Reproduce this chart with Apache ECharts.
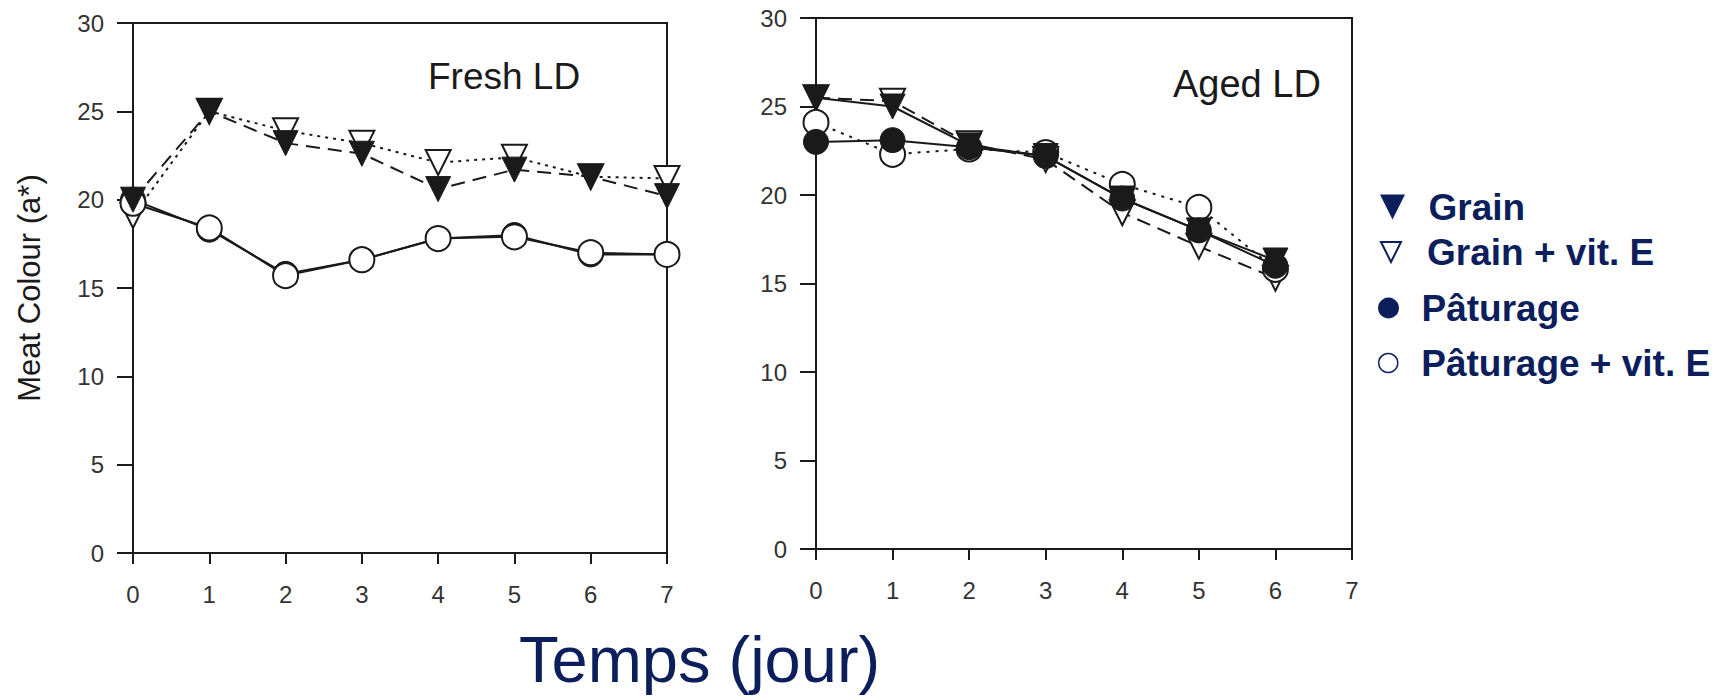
<!DOCTYPE html>
<html>
<head>
<meta charset="utf-8">
<script src="https://cdn.jsdelivr.net/npm/echarts@6/dist/echarts.min.js"></script>
<style>
html,body{margin:0;padding:0;background:#fff;}
#chart{width:1730px;height:700px;}
</style>
</head>
<body>
<div id="chart"></div>
<script>
// ---- data ----
const freshDays = [0, 1, 2, 3, 4, 5, 6, 7];
const agedDays = [0, 1, 2, 3, 4, 5, 6];
const seriesNames = ['Grain', 'Grain + vit. E', 'Pâturage', 'Pâturage + vit. E'];

const freshGrain = [20.0, 25.0, 23.2, 22.6, 20.6, 21.7, 21.3, 20.2];
const freshGrainE = [19.1, 25.0, 23.9, 23.2, 22.1, 22.4, 21.3, 21.2];
const freshPat = [20.0, 18.3, 15.8, 16.6, 17.8, 18.0, 16.9, 16.9];
const freshPatE = [19.8, 18.4, 15.7, 16.6, 17.8, 17.9, 17.0, 16.9];

const agedGrain = [25.5, 25.0, 22.8, 22.2, 19.8, 18.0, 16.3];
const agedGrainE = [25.5, 25.3, 22.9, 22.0, 19.0, 17.1, 15.3];
const agedPat = [23.0, 23.1, 22.7, 22.2, 19.8, 18.0, 16.0];
const agedPatE = [24.1, 22.3, 22.6, 22.4, 20.6, 19.3, 15.8];

const panelTitles = ['Fresh LD', 'Aged LD'];
const xTitle = 'Temps (jour)';
const yTitle = 'Meat Colour (a*)';

// ---- styling ----
const FONT = "'Liberation Sans', Arial, sans-serif";
const NAVY = '#0c1f5c';
const INK = '#1a1a1a';
const TRI = 'path://M0,0L20,0L10,20Z';

const pairs = (xs, ys) => xs.map((x, i) => [x, ys[i]]);

const symbolFor = {
  'Grain': {symbol: TRI, itemStyle: {color: INK, borderColor: INK, borderWidth: 1}},
  'Grain + vit. E': {symbol: TRI, itemStyle: {color: '#fff', borderColor: INK, borderWidth: 2}},
  'Pâturage': {symbol: 'circle', itemStyle: {color: INK, borderColor: INK, borderWidth: 1}},
  'Pâturage + vit. E': {symbol: 'circle', itemStyle: {color: '#fff', borderColor: INK, borderWidth: 2}}
};

function mkSeries(name, data, idx, lineType, z) {
  const s = symbolFor[name];
  return {
    name: name, type: 'line', xAxisIndex: idx, yAxisIndex: idx,
    data: data, symbol: s.symbol, symbolSize: 25, z: z,
    itemStyle: s.itemStyle,
    lineStyle: {color: INK, width: 2, type: lineType},
    emphasis: {disabled: true}, animation: false
  };
}

function xAxisCfg(idx) {
  return {
    gridIndex: idx, type: 'value', min: 0, max: 7, interval: 1,
    axisLine: {show: true, onZero: false, lineStyle: {color: INK, width: 2}},
    axisTick: {show: true, length: 11, lineStyle: {color: INK, width: 2}},
    axisLabel: {fontSize: 24, color: '#333', fontFamily: FONT, margin: 29},
    splitLine: {show: false}
  };
}
function yAxisCfg(idx, withName) {
  const c = {
    gridIndex: idx, type: 'value', min: 0, max: 30, interval: 5,
    axisLine: {show: true, onZero: false, lineStyle: {color: INK, width: 2}},
    axisTick: {show: true, length: 16, lineStyle: {color: INK, width: 2}},
    axisLabel: {fontSize: 24, color: '#333', fontFamily: FONT, margin: 29},
    splitLine: {show: false}
  };
  if (withName) {
    c.name = yTitle;
    c.nameLocation = 'middle';
    c.nameRotate = 90;
    c.nameGap = 88;
    c.nameTextStyle = {fontSize: 31, color: INK, fontFamily: FONT};
  }
  return c;
}

function legendCfg(name, top, left, icon, w, h, style) {
  return {
    data: [{name: name, icon: icon, itemStyle: style}],
    left: left, top: top, orient: 'vertical', padding: 0,
    itemWidth: w, itemHeight: h, symbolKeepAspect: true,
    selectedMode: false,
    textStyle: {fontSize: 37, fontWeight: 'bold', color: NAVY, fontFamily: FONT, lineHeight: 40}
  };
}

const option = {
  backgroundColor: '#fff',
  animation: false,
  title: [
    {text: panelTitles[0], left: 428, top: 58, padding: 0,
     textStyle: {fontSize: 37, fontWeight: 'normal', color: INK, fontFamily: FONT}},
    {text: panelTitles[1], left: 1173, top: 65, padding: 0,
     textStyle: {fontSize: 38, fontWeight: 'normal', color: INK, fontFamily: FONT}},
    {text: xTitle, left: 519, top: 627, padding: 0,
     textStyle: {fontSize: 65, fontWeight: 'normal', color: NAVY, fontFamily: FONT}}
  ],
  legend: [
    legendCfg('Grain', 187, 1380, TRI, 62, 25, {color: NAVY, borderWidth: 0}),
    legendCfg('Grain + vit. E', 232, 1380, TRI, 62, 20, {color: '#fff', borderColor: NAVY, borderWidth: 2}),
    legendCfg('Pâturage', 288, 1378, 'circle', 56, 21, {color: NAVY, borderWidth: 0}),
    legendCfg('Pâturage + vit. E', 343, 1378, 'circle', 56, 19, {color: '#fff', borderColor: NAVY, borderWidth: 1.5})
  ],
  grid: [
    {left: 133, top: 23, width: 534, height: 530, show: true, borderColor: INK, borderWidth: 2, backgroundColor: 'transparent'},
    {left: 816, top: 18, width: 536, height: 531, show: true, borderColor: INK, borderWidth: 2, backgroundColor: 'transparent'}
  ],
  xAxis: [xAxisCfg(0), xAxisCfg(1)],
  yAxis: [yAxisCfg(0, true), yAxisCfg(1, false)],
  series: [
    mkSeries('Grain + vit. E', pairs(freshDays, freshGrainE), 0, [3, 5], 2),
    mkSeries('Pâturage + vit. E', pairs(freshDays, freshPatE), 0, 'solid', 2),
    mkSeries('Pâturage', pairs(freshDays, freshPat), 0, 'solid', 1),
    mkSeries('Grain', pairs(freshDays, freshGrain), 0, [14, 8], 3),
    mkSeries('Grain + vit. E', pairs(agedDays, agedGrainE), 1, [14, 8], 2),
    mkSeries('Pâturage + vit. E', pairs(agedDays, agedPatE), 1, [3, 6], 2),
    mkSeries('Grain', pairs(agedDays, agedGrain), 1, 'solid', 3),
    mkSeries('Pâturage', pairs(agedDays, agedPat), 1, 'solid', 3)
  ]
};

const chart = echarts.init(document.getElementById('chart'), null, {renderer: 'svg'});
chart.setOption(option);
</script>
</body>
</html>
